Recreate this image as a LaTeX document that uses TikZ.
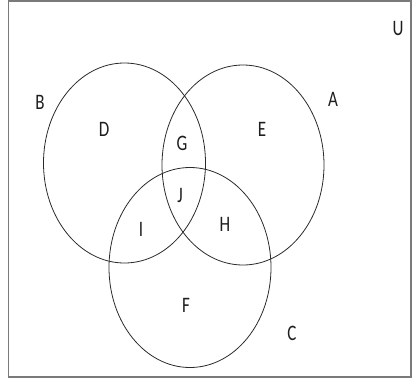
\documentclass[tikz,border=0pt]{standalone}
\usepackage{fontspec}
\setmainfont{Carlito}
\usetikzlibrary{shapes.geometric}
\definecolor{setline}{HTML}{2A2A2A}
\definecolor{frameline}{HTML}{7A7A7A}
\definecolor{lettertxt}{HTML}{1E1E1E}

\begin{document}
\begin{tikzpicture}[x=1pt, y=-1pt,
  setellipse/.style={ellipse, draw=setline, line width=0.8pt, minimum width=162pt, minimum height=200pt, inner sep=0pt},
  letter/.style={text=lettertxt, font=\fontsize{17}{18}\selectfont, yscale=1.3, inner sep=0pt}]

% Universe
\useasboundingbox (0,0) rectangle (413,383);
\draw[frameline, line width=1.5pt] (8.5,1) rectangle (411,377);
\node[letter] (labU) at (398,28) {U};

% Sets
\node[setellipse] (setB) at (124.5,163) {};
\node[setellipse] (setA) at (243,165) {};
\node[setellipse] (setC) at (190,267.5) {};

% Set names
\node[letter] (labB) at (40,102) {B};
\node[letter] (labA) at (333,99) {A};
\node[letter] (labC) at (292,333) {C};

% Regions
\node[letter] (regD) at (104,129) {D};
\node[letter] (regG) at (182,143) {G};
\node[letter] (regE) at (262,129) {E};
\node[letter] (regJ) at (180,195) {J};
\node[letter] (regI) at (141,229) {I};
\node[letter] (regH) at (225,224) {H};
\node[letter] (regF) at (186,305) {F};

\end{tikzpicture}
\end{document}
